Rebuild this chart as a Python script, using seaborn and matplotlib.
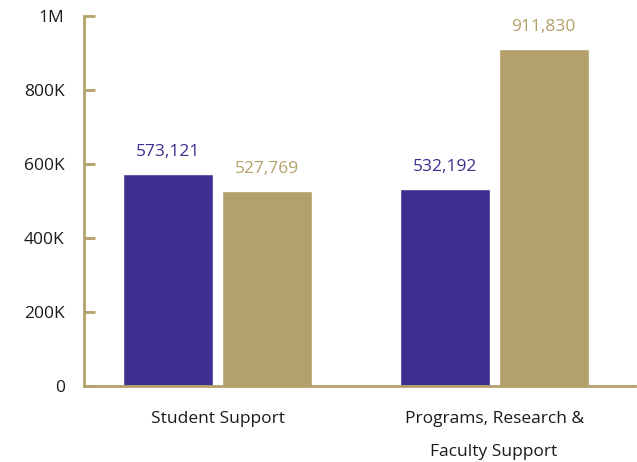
import matplotlib
matplotlib.use("Agg")
import matplotlib.pyplot as plt
import seaborn as sns
import pandas as pd
from matplotlib.ticker import FixedLocator

categories = ["Student Support", "Programs, Research &\nFaculty Support"]
series_names = ["Series 1", "Series 2"]
series1 = [573121, 532192]
series2 = [527769, 911830]
yticks = [0, 200000, 400000, 600000, 800000, 1000000]
ytick_labels = ["0", "200K", "400K", "600K", "800K", "1M"]

purple = "#3D2E8F"
gold = "#B4A06A"

df = pd.DataFrame({
    "category": categories * 2,
    "series": [series_names[0]] * 2 + [series_names[1]] * 2,
    "value": series1 + series2,
})

sns.set_theme(style="white")
plt.rcParams["font.family"] = ["Open Sans", "DejaVu Sans"]

fig = plt.figure(figsize=(6.37, 4.62), dpi=100)
ax = fig.add_axes([0.132, 0.1645, 0.865, 0.8005])

sns.barplot(data=df, x="category", y="value", hue="series",
            palette=[purple, gold], width=0.716, gap=0.092,
            saturation=1, legend=False, ax=ax, order=categories,
            hue_order=series_names)

ax.set_ylim(0, 1000000)
ax.set_xlim(-0.483, 1.51)
ax.yaxis.set_major_locator(FixedLocator(yticks))
ax.set_yticklabels(ytick_labels, fontsize=12.5, color="#1a1a1a")
ax.set_xlabel("")
ax.set_ylabel("")
ax.tick_params(axis="y", left=True, direction="in", length=8, width=2,
               color=gold, pad=14)
ax.tick_params(axis="x", bottom=False, length=0, pad=18, labelsize=12.5,
               labelcolor="#1a1a1a")
for lbl in ax.get_xticklabels():
    lbl.set_linespacing(2.45)
    lbl.set_verticalalignment("top")

for side in ["top", "right"]:
    ax.spines[side].set_visible(False)
for side in ["left", "bottom"]:
    ax.spines[side].set_color(gold)
    ax.spines[side].set_linewidth(2)
    ax.spines[side].set_clip_on(False)

for container, col in zip(ax.containers, [purple, gold]):
    for bar in container:
        h = bar.get_height()
        ax.annotate(f"{int(h):,}", (bar.get_x() + bar.get_width() / 2, h),
                    xytext=(0, 10), textcoords="offset points",
                    ha="center", va="bottom", fontsize=12.5, color=col)

fig.savefig("out.png", dpi=100)
